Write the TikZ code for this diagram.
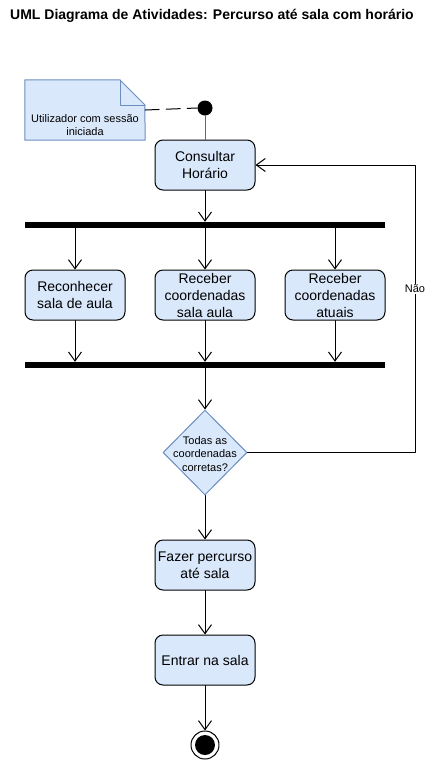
\documentclass[tikz,border=0pt]{standalone}
\usepackage{fontspec}
\setmainfont{Liberation Sans}
\usepackage{tikz}
\usetikzlibrary{arrows.meta,shapes.geometric}
\definecolor{actfill}{HTML}{DAE8FC}
\definecolor{actline}{HTML}{6C8EBF}

\begin{document}
\begin{tikzpicture}[line cap=round,line join=round,>={Straight Barb[length=9pt,width=13pt]},x=1pt,y=-1pt,
    activity/.style={draw,line width=1pt,rounded corners=8pt,fill=actfill,minimum width=100pt,minimum height=50pt,inner sep=0pt,align=center,font=\fontsize{14}{17}\selectfont},
    bar/.style={fill=black,minimum width=360pt,minimum height=6pt,inner sep=0pt},
    decision/.style={diamond,draw=actline,line width=1pt,fill=actfill,minimum width=84pt,minimum height=85pt,inner sep=0pt},
    smalltext/.style={inner sep=0pt,align=center,font=\fontsize{11}{13.5}\selectfont},
    flow/.style={->,line width=1pt}]
        \useasboundingbox (0,0) rectangle (430,761);
        \node[anchor=west,inner sep=0pt,font=\bfseries\fontsize{14}{16}\selectfont] (title) at (10,15.5) {UML Diagrama de Atividades: Percurso até sala com horário};
        % nota
        \node[minimum width=120pt,minimum height=60pt,inner sep=0pt] (note) at (85,110) {};
        \draw [actline,fill=actfill,line width=1pt] (note.south west) -- (note.north west) -- ++(95,0) -- ++(25,25) -- (note.south east) -- cycle;
        \draw [actline,line width=1pt] (120,80) -- (120,105) -- (145,105);
        \node[smalltext] (notetext) at (85,125) {Utilizador com sessão\\iniciada};
        % inicio
        \node[circle,fill=black,minimum size=15pt,inner sep=0pt] (start) at (205,108) {};
        \draw [line width=1pt,dash pattern=on 14pt off 7pt] (note.east) -- (start.west);
        \node[activity] (cons) at (205,165) {Consultar\\Horário};
        \draw [line width=1pt,black!60] (start) -- (cons.north);
        \node[bar] (fork) at (205,225) {};
        \draw [flow] (cons.south) -- (fork.north);
        \node[activity] (rec) at (75,295) {Reconhecer\\sala de aula};
        \node[activity] (sala) at (205,295) {Receber\\coordenadas\\sala aula};
        \node[activity] (atuais) at (335,295) {Receber\\coordenadas\\atuais};
        \node[bar] (join) at (205,365) {};
        \foreach \act in {rec,sala,atuais} {
            \draw [flow] (fork.south -| \act.north) -- (\act.north);
            \draw [flow] (\act.south) -- (\act.south |- join.north);
        }
        % decisao
        \node[decision] (dec) at (205,452.5) {};
        \node[smalltext] (dectext) at (205,454) {Todas as\\coordenadas\\corretas?};
        \draw [flow] (join.south) -- (dec.north);
        \coordinate (loop) at (415,452.5);
        \draw [flow] (dec.east) -- (loop) |- (cons.east);
        \node[smalltext,fill=white,inner sep=1pt] (nao) at (415,289) {Não};
        \node[activity] (perc) at (205,565) {Fazer percurso\\até sala};
        \node[activity] (entrar) at (205,660) {Entrar na sala};
        \node[circle,draw,line width=1pt,minimum size=28pt,inner sep=0pt,path picture={\fill (path picture bounding box.center) circle (10pt);}] (end) at (205,745) {};
        \draw [flow] (dec.south) -- (perc.north);
        \draw [flow] (perc.south) -- (entrar.north);
        \draw [flow] (entrar.south) -- (end.north);
\end{tikzpicture}
\end{document}
